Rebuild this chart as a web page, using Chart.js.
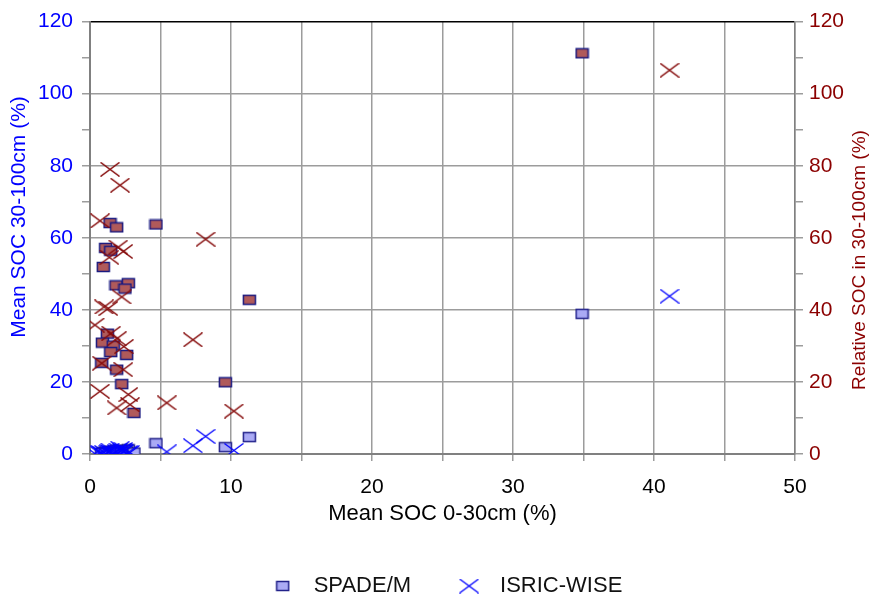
<!DOCTYPE html>
<html>
<head>
<meta charset="utf-8">
<script src="https://cdn.jsdelivr.net/npm/chart.js@4"></script>
<style>
  html, body { margin: 0; padding: 0; background: #fff; }
  #wrap { width: 875px; height: 599px; position: relative; }
</style>
</head>
<body>
<div id="wrap"><canvas id="socChart"></canvas></div>
<script>
// SPADE/M: x = mean SOC 0-30cm, soc = mean SOC 30-100cm, rel = relative SOC in 30-100cm
const spadeX   = [1.42, 1.89, 4.68, 1.11, 1.47, 0.94, 1.84, 2.72, 2.48, 1.23, 0.88, 1.65, 1.47, 2.60, 0.83, 1.89, 2.25, 3.12, 34.9, 11.3, 9.6];
const spadeSoc = [0.9, 1.2, 3.0, 0.6, 0.8, 0.5, 0.9, 1.3, 1.1, 0.4, 0.3, 0.5, 0.4, 0.7, 0.2, 0.4, 0.4, 0.4, 38.9, 4.7, 1.9];
const spadeRel = [64.1, 62.9, 63.7, 57.2, 56.4, 51.9, 46.8, 47.4, 45.9, 33.4, 30.9, 30.1, 28.3, 27.5, 25.3, 23.4, 19.4, 11.4, 111.2, 42.8, 19.9];

// ISRIC-WISE
const isricX   = [1.42, 2.13, 0.71, 2.0, 2.36, 1.37, 2.25, 1.0, 1.3, 0.35, 1.5, 1.9, 2.4, 0.83, 2.36, 0.71, 2.72, 1.89, 2.84, 5.44, 7.3, 8.2, 10.2, 41.1];
const isricSoc = [1.1, 1.6, 0.5, 1.1, 1.3, 0.7, 1.0, 0.4, 0.5, 0.1, 0.5, 0.6, 0.7, 0.2, 0.6, 0.1, 0.4, 0.2, 0.4, 0.6, 2.3, 4.9, 1.0, 43.8];
const isricRel = [79.0, 74.6, 64.7, 57.4, 56.2, 54.6, 43.6, 40.8, 40.4, 35.8, 33.5, 32.0, 29.8, 25.2, 23.4, 17.4, 16.5, 12.8, 13.7, 14.2, 31.7, 59.6, 11.9, 106.5];

const xTicks = [0, 10, 20, 30, 40, 50];
const yTicks = [0, 20, 40, 60, 80, 100, 120];

const FONT = "'Liberation Sans', Arial, sans-serif";
const BLUE = '#0000ff';
const DARKRED = '#8b0000';
const GRID = '#9c9c9c';

function square(fill, stroke) {
  const c = document.createElement('canvas');
  c.width = 15; c.height = 12;
  const g = c.getContext('2d');
  g.fillStyle = fill;
  g.fillRect(1.5, 1.5, 12, 9);
  g.strokeStyle = stroke;
  g.lineWidth = 1.5;
  g.strokeRect(1.5, 1.5, 12, 9);
  return c;
}

function cross(color, w) {
  const c = document.createElement('canvas');
  c.width = 20; c.height = 15;
  const g = c.getContext('2d');
  g.strokeStyle = color;
  g.lineWidth = w;
  g.beginPath();
  g.moveTo(0.5, 0.5); g.lineTo(19.5, 14.5);
  g.moveTo(19.5, 0.5); g.lineTo(0.5, 14.5);
  g.stroke();
  return c;
}

const pts = (xs, ys) => xs.map((x, i) => ({ x, y: ys[i] }));

// both y titles sit off-centre in the original, so they are drawn here
const yTitles = {
  id: 'yTitles',
  afterDraw(chart) {
    const { ctx } = chart;
    const put = (text, x, y, size, color) => {
      ctx.save();
      ctx.translate(x, y);
      ctx.rotate(-Math.PI / 2);
      ctx.font = size + 'px ' + FONT;
      ctx.fillStyle = color;
      ctx.textAlign = 'center';
      ctx.textBaseline = 'middle';
      ctx.fillText(text, 0, 0);
      ctx.restore();
    };
    put('Mean SOC 30-100cm (%)', 19, 217, 21, BLUE);
    put('Relative SOC in 30-100cm (%)', 860, 260, 19, DARKRED);
  }
};

const ctx = document.getElementById('socChart').getContext('2d');

new Chart(ctx, {
  type: 'scatter',
  data: {
    datasets: [
      { label: 'ISRIC-WISE', data: pts(isricX, isricSoc), yAxisID: 'y',
        pointStyle: cross(BLUE, 1.3), pointRadius: 8 },
      { label: 'SPADE/M', data: pts(spadeX, spadeSoc), yAxisID: 'y',
        pointStyle: square('#aaaaf5', '#22228a'), pointRadius: 7 },
      { label: 'ISRIC-WISE rel', data: pts(isricX, isricRel), yAxisID: 'y2',
        pointStyle: cross('#850a0a', 1.5), pointRadius: 8 },
      { label: 'SPADE/M rel', data: pts(spadeX, spadeRel), yAxisID: 'y2',
        pointStyle: square('#b05a5a', '#1a1a80'), pointRadius: 7 }
    ]
  },
  options: {
    responsive: true,
    maintainAspectRatio: false,
    animation: false,
    layout: { padding: { top: 2, left: 0, right: 0, bottom: -8 } },
    plugins: {
      tooltip: { enabled: false },
      legend: {
        position: 'bottom',
        fullSize: false,
        labels: {
          usePointStyle: true,
          pointStyleWidth: 40,
          padding: 38,
          color: '#111',
          font: { family: FONT, size: 22 },
          filter: item => item.datasetIndex < 2,
          sort: (a, b) => b.datasetIndex - a.datasetIndex
        }
      }
    },
    scales: {
      x: {
        type: 'linear',
        min: 0, max: 50,
        afterFit: s => { s.height = 83; },
        afterBuildTicks: s => {
          s.ticks = [];
          for (let v = 0; v <= 50; v += 5) s.ticks.push({ value: v });
        },
        ticks: {
          autoSkip: false,
          maxRotation: 0,
          padding: 14,
          color: '#000',
          font: { family: FONT, size: 21 },
          callback: v => xTicks.includes(v) ? String(v) : ''
        },
        grid: { color: GRID, lineWidth: 1.5, tickLength: 7, tickColor: GRID },
        border: { color: '#808080', width: 2 },
        title: {
          display: true, text: 'Mean SOC 0-30cm (%)', color: '#000',
          font: { family: FONT, size: 22 }, padding: { top: 0, bottom: 10 }
        }
      },
      y: {
        position: 'left',
        min: 0, max: 120,
        afterFit: s => { s.width = 90; },
        afterBuildTicks: s => {
          s.ticks = [];
          for (let v = 0; v <= 120; v += 10) s.ticks.push({ value: v });
        },
        ticks: {
          padding: 9,
          color: BLUE,
          font: { family: FONT, size: 21 },
          callback: v => yTicks.includes(v) ? String(v) : ''
        },
        grid: {
          lineWidth: 1.5,
          tickLength: 8,
          tickColor: GRID,
          color: c => c.tick && c.tick.value === 120 ? '#000'
                     : (c.tick && c.tick.value % 20 === 0 ? GRID : 'rgba(0,0,0,0)')
        },
        border: { color: '#808080', width: 2 }
      },
      y2: {
        position: 'right',
        min: 0, max: 120,
        afterFit: s => { s.width = 80; },
        afterBuildTicks: s => {
          s.ticks = [];
          for (let v = 0; v <= 120; v += 10) s.ticks.push({ value: v });
        },
        ticks: {
          padding: 6,
          color: DARKRED,
          font: { family: FONT, size: 21 },
          callback: v => yTicks.includes(v) ? String(v) : ''
        },
        grid: { drawOnChartArea: false, tickLength: 8, color: GRID, lineWidth: 1.5 },
        border: { color: '#808080', width: 1.5 }
      }
    }
  },
  plugins: [yTitles]
});
</script>
</body>
</html>
